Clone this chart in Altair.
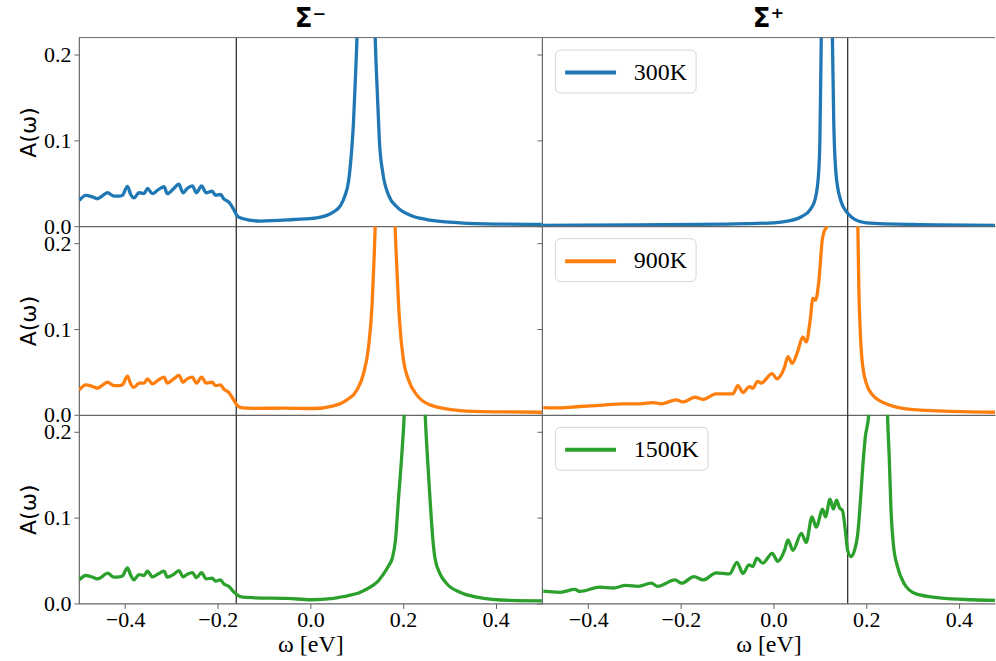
import altair as alt
import pandas as pd

# ---------------- data ----------------
temps = ["300K", "900K", "1500K"]
colors = ["#1f77b4", "#ff7f0e", "#2ca02c"]
col_titles = ["Σ⁻", "Σ⁺"]
vline_minus = [-0.16]
vline_plus = [0.16]
x_ticks = [-0.4, -0.2, 0.0, 0.2, 0.4]
y_ticks = [0.0, 0.1, 0.2]

# Sigma-minus, low-energy part (shared x grid)
sm_left_x = [-0.499, -0.485, -0.470, -0.460, -0.453, -0.438, -0.424, -0.413, -0.406, -0.395,
             -0.388, -0.381, -0.370, -0.359, -0.352, -0.341, -0.330, -0.316, -0.309, -0.295,
             -0.284, -0.275, -0.266, -0.255, -0.246, -0.235, -0.225, -0.212, -0.205, -0.194,
             -0.187, -0.176, -0.165, -0.158, -0.147]
sm300_left_y = [0.030, 0.036, 0.034, 0.032, 0.034, 0.039, 0.035, 0.035, 0.036, 0.0465,
                0.037, 0.033, 0.039, 0.038, 0.044, 0.038, 0.042, 0.046, 0.038, 0.044,
                0.049, 0.039, 0.044, 0.047, 0.039, 0.047, 0.039, 0.041, 0.036, 0.037,
                0.032, 0.028, 0.019, 0.012, 0.009]
sm900_left_y = [0.029, 0.035, 0.033, 0.031, 0.033, 0.038, 0.034, 0.034, 0.035, 0.045,
                0.036, 0.032, 0.037, 0.037, 0.042, 0.036, 0.040, 0.044, 0.037, 0.042,
                0.046, 0.038, 0.042, 0.044, 0.037, 0.044, 0.037, 0.038, 0.034, 0.035,
                0.030, 0.026, 0.017, 0.011, 0.008]
sm1500_left_y = [0.0276, 0.0326, 0.0306, 0.0287, 0.030, 0.0353, 0.0306, 0.031, 0.032, 0.0415,
                 0.033, 0.0276, 0.0337, 0.0326, 0.0376, 0.031, 0.034, 0.0376, 0.0306, 0.034,
                 0.0384, 0.031, 0.034, 0.036, 0.030, 0.036, 0.0287, 0.0295, 0.026, 0.0276,
                 0.0229, 0.0198, 0.0132, 0.010, 0.0073]

# Sigma-minus, high-energy part
sm300_right_x = [-0.108, -0.036, 0.014, 0.050, 0.065, 0.075, 0.0826, 0.088, 0.093, 0.097,
                 0.1006, 0.12, 0.140, 0.145, 0.149, 0.1566, 0.169, 0.187, 0.2155, 0.251,
                 0.323, 0.40, 0.5]
sm300_right_y = [0.006, 0.0078, 0.0097, 0.0167, 0.024, 0.036, 0.053, 0.081, 0.12, 0.17,
                 0.22, 1.0, 0.22, 0.150, 0.10, 0.0616, 0.036, 0.0225, 0.0128, 0.0078,
                 0.004, 0.0025, 0.002]
sm900_right_x = [-0.12, -0.06, 0.006, 0.050, 0.079, 0.1006, 0.115, 0.1256, 0.133, 0.138,
                 0.140, 0.162, 0.183, 0.187, 0.1925, 0.201, 0.212, 0.230, 0.2586, 0.323,
                 0.395, 0.5]
sm900_right_y = [0.0075, 0.0078, 0.0074, 0.0105, 0.0174, 0.029, 0.0485, 0.079, 0.126, 0.188,
                 0.22, 1.0, 0.22, 0.1686, 0.110, 0.064, 0.0407, 0.023, 0.0116, 0.005,
                 0.0035, 0.003]
sm1500_right_x = [-0.12, -0.05, 0.0, 0.05, 0.072, 0.108, 0.129, 0.144, 0.158, 0.169,
                  0.177, 0.184, 0.19, 0.198, 0.2026, 0.225, 0.248, 0.252, 0.2586, 0.264,
                  0.269, 0.280, 0.2946, 0.323, 0.359, 0.431, 0.5]
sm1500_right_y = [0.0066, 0.006, 0.0043, 0.006, 0.0081, 0.013, 0.019, 0.0248, 0.0345, 0.044,
                  0.053, 0.075, 0.12, 0.178, 0.22, 1.0, 0.22, 0.178, 0.12, 0.078,
                  0.053, 0.0345, 0.023, 0.013, 0.0073, 0.0035, 0.003]

# Sigma-plus
sp300_x = [-0.5, -0.3, -0.1, 0.0, 0.03, 0.06, 0.08, 0.09, 0.097, 0.100,
           0.103, 0.115, 0.127, 0.130, 0.135, 0.145, 0.16, 0.175, 0.2, 0.3,
           0.478]
sp300_y = [0.001, 0.0015, 0.0025, 0.004, 0.006, 0.011, 0.02, 0.032, 0.06, 0.10,
           0.22, 1.0, 0.22, 0.12, 0.06, 0.03, 0.015, 0.008, 0.004, 0.002,
           0.001]
sp900_x = [-0.497, -0.461, -0.418, -0.375, -0.325, -0.289, -0.260, -0.243, -0.210, -0.195,
           -0.170, -0.152, -0.124, -0.088, -0.077, -0.066, -0.052, -0.045, -0.034, -0.027,
           -0.003, 0.007, 0.024, 0.031, 0.040, 0.052, 0.063, 0.0705, 0.079, 0.085,
           0.0905, 0.098, 0.105, 0.110, 0.115, 0.15, 0.182, 0.184, 0.187, 0.191,
           0.200, 0.214, 0.243, 0.286, 0.358, 0.478]
sp900_y = [0.0085, 0.008, 0.0097, 0.011, 0.0128, 0.0128, 0.0143, 0.0128, 0.0174, 0.015,
           0.0205, 0.018, 0.0244, 0.0244, 0.034, 0.026, 0.033, 0.031, 0.039, 0.037,
           0.048, 0.042, 0.056, 0.068, 0.060, 0.0736, 0.091, 0.085, 0.110, 0.1357,
           0.1337, 0.157, 0.2035, 0.2151, 0.22, 1.5, 0.22, 0.149, 0.099, 0.064,
           0.037, 0.023, 0.0128, 0.007, 0.0045, 0.003]
sp1500_x = [-0.497, -0.461, -0.429, -0.418, -0.375, -0.346, -0.319, -0.292, -0.264, -0.250,
            -0.213, -0.198, -0.172, -0.152, -0.1235, -0.095, -0.079, -0.066, -0.053, -0.045,
            -0.036, -0.023, -0.003, 0.009, 0.024, 0.031, 0.042, 0.060, 0.0705, 0.083,
            0.092, 0.106, 0.112, 0.122, 0.129, 0.136, 0.142, 0.149, 0.155, 0.160,
            0.1675, 0.1746, 0.1817, 0.187, 0.1925, 0.198, 0.2054, 0.226, 0.246, 0.25,
            0.2536, 0.2586, 0.268, 0.282, 0.3075, 0.358, 0.4295, 0.478]
sp1500_y = [0.0143, 0.013, 0.0163, 0.014, 0.019, 0.018, 0.021, 0.020, 0.0236, 0.020,
            0.0275, 0.0236, 0.0314, 0.0275, 0.0357, 0.0345, 0.048, 0.035, 0.045, 0.043,
            0.0527, 0.047, 0.0585, 0.0492, 0.0624, 0.074, 0.062, 0.0818, 0.0713, 0.101,
            0.089, 0.110, 0.101, 0.1217, 0.110, 0.1205, 0.112, 0.108, 0.085, 0.0616,
            0.0547, 0.0616, 0.081, 0.116, 0.159, 0.194, 0.22, 1.0, 0.22, 0.166,
            0.108, 0.069, 0.042, 0.023, 0.0112, 0.0066, 0.0043, 0.0035]

series = {
    ("minus", "300K"): (sm_left_x + sm300_right_x, sm300_left_y + sm300_right_y),
    ("minus", "900K"): (sm_left_x + sm900_right_x, sm900_left_y + sm900_right_y),
    ("minus", "1500K"): (sm_left_x + sm1500_right_x, sm1500_left_y + sm1500_right_y),
    ("plus", "300K"): (sp300_x, sp300_y),
    ("plus", "900K"): (sp900_x, sp900_y),
    ("plus", "1500K"): (sp1500_x, sp1500_y),
}

# ---------------- styling ----------------
W_L, W_R, H = 464, 454, 189
FRAME = "#666666"
SERIF = "Liberation Serif"
SANS = "DejaVu Sans"
minus_fmt = "replace(datum.label, '-', '\u2212')"


def panel(col, row):
    temp = temps[row]
    color = colors[row]
    xs, ys = series[(col, temp)]
    assert len(xs) == len(ys)
    df = pd.DataFrame({"w": xs, "A": ys, "T": temp})
    left = col == "minus"
    bottom = row == 2
    width = W_L if left else W_R
    xdom = [-0.5, 0.5] if left else [-0.5, 0.478]

    xscale = alt.Scale(domain=xdom, nice=False, zero=False)
    yscale = alt.Scale(domain=[0, 0.22], nice=False, zero=False)

    if bottom:
        xaxis = alt.Axis(values=x_ticks, format=".1f", labelExpr=minus_fmt,
                         title="ω [eV]", titleFont=SERIF, titleFontSize=24,
                         titleFontWeight="normal", titlePadding=2, labelPadding=1)
    else:
        xaxis = alt.Axis(values=x_ticks, labels=False, ticks=False, title=None)

    if left:
        yaxis = alt.Axis(values=y_ticks, format=".1f", title="A(ω)", titleFont=SANS,
                         titleFontSize=22, titleFontWeight="normal", titlePadding=3,
                         labelPadding=3)
    else:
        yaxis = alt.Axis(values=y_ticks, labels=False, title=None)

    if left:
        legend = None
    else:
        legend = alt.Legend(title=None, orient="none", legendX=13, legendY=12,
                            fillColor="white", strokeColor="#d4d4d4", cornerRadius=5,
                            padding=8, symbolType="M-1,0H3", symbolStrokeWidth=4,
                            symbolSize=650, labelFont=SERIF, labelFontSize=24,
                            labelOffset=41, labelColor="black")

    line = alt.Chart(df).mark_line(strokeWidth=3.3, clip=True,
                                   interpolate="monotone").encode(
        x=alt.X("w:Q", scale=xscale, axis=xaxis),
        y=alt.Y("A:Q", scale=yscale, axis=yaxis),
        color=alt.Color("T:N", scale=alt.Scale(domain=[temp], range=[color]), legend=legend),
    )
    vdf = pd.DataFrame({"w": vline_minus if left else vline_plus})
    vrule = alt.Chart(vdf).mark_rule(color="#333333", strokeWidth=1.3).encode(x="w:Q")
    layers = [vrule, line]
    if row == 0:
        top = alt.Chart(vdf).mark_rule(color=FRAME, strokeWidth=1).encode(
            x=alt.value(0), x2=alt.value(width), y=alt.value(0))
        layers.append(top)
    props = dict(width=width, height=H)
    if row == 0:
        props["title"] = alt.TitleParams(col_titles[0] if left else col_titles[1],
                                         font=SANS, fontSize=26, fontWeight="bold",
                                         anchor="middle", offset=5, color="black")
    return alt.layer(*layers).properties(**props)


panels = []
for r in range(3):
    panels.append(panel("minus", r))
    panels.append(panel("plus", r))

chart = (
    alt.concat(*panels, columns=2, spacing=0, bounds="flush")
    .resolve_scale(color="independent", x="independent", y="independent")
    .resolve_legend(color="independent")
    .properties(padding={"left": 17, "top": 5, "right": 0, "bottom": 0})
    .configure_view(strokeWidth=0)
    .configure_axis(labelFont=SERIF, labelFontSize=22, labelColor="black",
                    tickColor=FRAME, domainColor=FRAME, tickSize=5, grid=False,
                    titleColor="black", domainWidth=1.2)
)

chart.save("out.html", embed_options={"renderer": "svg", "actions": False})
